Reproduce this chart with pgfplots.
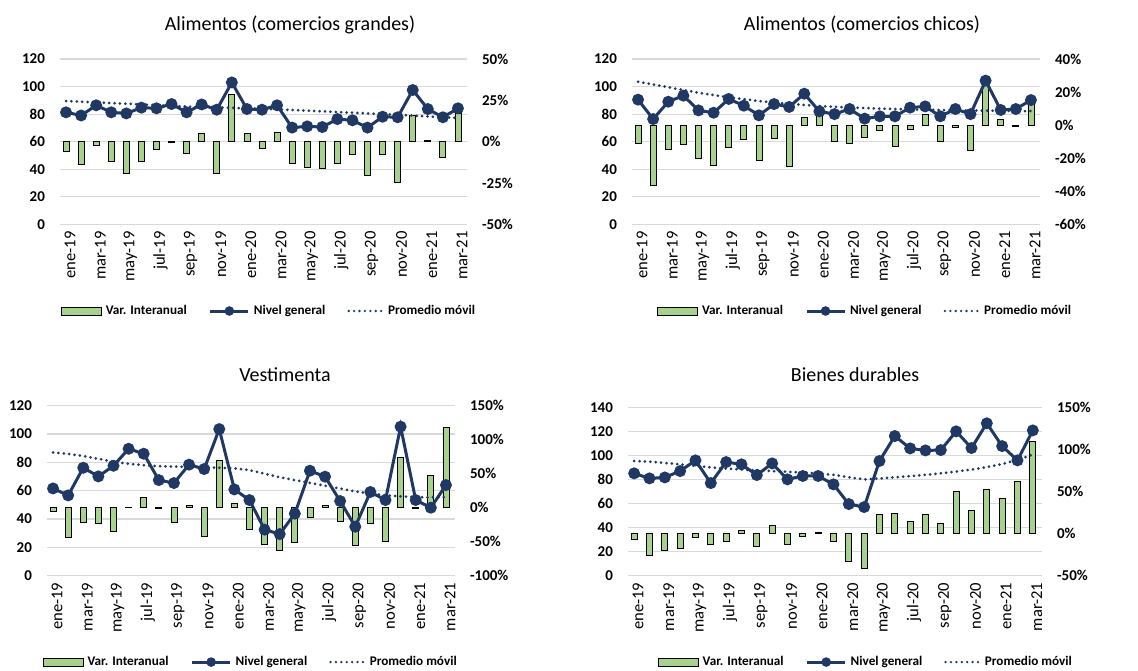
\documentclass[border=0pt]{standalone}
\usepackage{fontspec}
\setmainfont{Carlito}
\usepackage{pgfplots}
\usepackage{pgfplotstable}
\pgfplotsset{compat=1.18}

\definecolor{vgreen}{RGB}{169,209,142}
\definecolor{navy}{RGB}{31,56,100}
\definecolor{gridc}{RGB}{217,217,217}

% m = month index (1 = ene-19 ... 27 = mar-21)
\pgfplotstableread{
m niv var prom
1 81.3 -5.6 89.5
2 79.0 -13.5 89.0
3 86.4 -2.2 88.5
4 81.3 -12.1 88.0
5 80.5 -19.0 87.5
6 84.7 -12.1 87.0
7 84.2 -4.6 86.5
8 87.3 -0.6 86.0
9 81.3 -7.1 85.5
10 87.0 4.8 85.1
11 83.2 -19.0 84.8
12 103.0 28.4 84.5
13 83.7 4.8 84.2
14 83.2 -4.0 83.8
15 86.4 5.6 83.5
16 70.2 -13.3 83.0
17 71.1 -15.5 82.5
18 70.6 -16.1 82.0
19 76.4 -13.3 81.5
20 75.5 -7.7 81.0
21 70.2 -20.4 80.5
22 78.1 -7.7 80.0
23 77.7 -24.6 79.5
24 97.5 15.9 78.9
25 83.7 0.6 78.3
26 77.7 -9.7 77.8
27 84.2 17.1 77.2
}\grandes

\pgfplotstableread{
m niv var prom
1 90.5 -11.1 103.5
2 76.4 -36.3 101.5
3 89.0 -14.7 99.5
4 93.4 -11.9 97.5
5 82.7 -20.2 95.5
6 81.0 -24.6 93.8
7 91.0 -13.3 92.2
8 86.1 -8.9 90.8
9 79.1 -21.6 89.5
10 87.3 -8.3 88.4
11 85.2 -25.2 87.4
12 94.8 4.8 86.6
13 82.0 6.3 85.9
14 80.0 -9.7 85.3
15 83.7 -11.1 84.8
16 76.7 -7.5 84.4
17 78.4 -3.2 84.0
18 78.4 -13.1 83.7
19 84.7 -2.4 83.4
20 85.6 6.3 83.2
21 78.4 -9.7 83.0
22 83.7 -1.2 82.8
23 80.0 -15.5 82.6
24 104.3 24.4 82.5
25 83.0 3.6 82.4
26 83.7 -0.6 82.3
27 90.2 14.3 82.2
}\chicos

\pgfplotstableread{
m niv var prom
1 61.6 -4.9 87.0
2 56.7 -43.1 86.0
3 76.2 -21.6 84.5
4 70.1 -23.0 82.5
5 77.6 -34.8 80.5
6 89.6 1.0 79.0
7 86.1 15.7 78.0
8 67.5 -1.0 77.3
9 65.4 -21.6 77.0
10 78.4 3.4 76.8
11 75.3 -41.7 76.5
12 103.5 70.0 76.2
13 60.9 6.9 75.8
14 53.4 -31.9 74.5
15 32.5 -53.9 72.0
16 29.4 -62.7 69.5
17 43.8 -51.0 67.5
18 74.1 -13.7 65.5
19 69.9 3.4 63.5
20 52.7 -19.6 61.5
21 34.6 -55.4 59.5
22 59.1 -23.5 58.0
23 53.4 -49.0 56.8
24 105.2 73.5 56.0
25 53.4 -1.5 55.5
26 48.0 47.0 55.3
27 64.0 118.0 55.5
}\vestimenta

\pgfplotstableread{
m niv var prom
1 85.3 -7.1 95.6
2 81.1 -25.4 95.0
3 81.9 -19.8 94.0
4 87.2 -17.5 92.8
5 96.1 -4.4 91.5
6 77.2 -12.7 90.3
7 94.7 -8.7 89.3
8 92.8 4.4 88.5
9 83.9 -15.5 87.8
10 93.6 9.9 87.2
11 80.3 -12.7 86.6
12 83.1 -2.8 86.0
13 83.1 1.0 85.3
14 76.1 -8.7 84.0
15 59.7 -32.9 82.0
16 57.2 -41.3 80.3
17 95.6 22.6 81.0
18 116.4 23.8 82.0
19 106.1 14.3 83.0
20 104.4 22.6 84.0
21 104.7 12.7 85.3
22 120.3 50.8 86.8
23 106.4 28.2 88.5
24 127.0 52.4 90.5
25 108.0 42.1 93.0
26 96.1 62.3 96.5
27 121.1 110.0 101.0
}\durables

\pgfplotsset{
  base/.style={scale only axis, anchor=south west, xmin=0.6, xmax=27.6,
    /pgf/number format/assume math mode=true},
  gridax/.style={base, axis line style={draw=none}, major tick style={draw=none},
    ymajorgrids, grid style={gridc, line width=0.6pt},
    xtick={1,3,...,27},
    xticklabels={ene-19,mar-19,may-19,jul-19,sep-19,nov-19,ene-20,mar-20,may-20,jul-20,sep-20,nov-20,ene-21,mar-21},
    x tick label style={rotate=90, anchor=east, font=\fontsize{8.3}{9}\selectfont, yshift=-2pt},
    y tick label style={font=\bfseries\fontsize{7.5}{9}\selectfont, xshift=-4pt}},
  barax/.style={base, ybar, bar width=3pt, axis x line=none, axis y line*=right,
    axis line style={draw=none}, major tick style={draw=none},
    y tick label style={font=\bfseries\fontsize{7.5}{9}\selectfont, xshift=4pt}},
  linax/.style={base, hide axis,
    legend style={draw=none, fill=none, font=\bfseries\fontsize{6.6}{8}\selectfont,
      legend columns=3, anchor=center, /tikz/every even column/.style={column sep=9pt}},
    legend cell align=left},
  barst/.style={fill=vgreen, draw=black, line width=0.4pt},
  nivel/.style={navy, line width=1.5pt, mark=*, mark size=2.2pt,
    legend image code/.code={\draw[navy, line width=1.5pt] (0pt,0pt) -- (19pt,0pt);
      \fill[navy] (9.5pt,0pt) circle (1.6pt);}},
  prom/.style={navy, line width=1.5pt, dash pattern=on 0pt off 2.7pt, line cap=round,
    legend image code/.code={\draw[navy, line width=1.3pt, dash pattern=on 0pt off 2.7pt, line cap=round] (0pt,0pt) -- (17pt,0pt);}},
  varleg/.style={legend image code/.code={\draw[fill=vgreen, draw=black, line width=0.4pt] (0pt,-2pt) rectangle (20pt,2pt);}},
}

\begin{document}
\begin{tikzpicture}
\useasboundingbox (0,0) rectangle (569pt,-335pt);

% ---- Alimentos (comercios grandes)
\begin{axis}[gridax, at={(30pt,-112.15pt)}, width=203.5pt, height=82.65pt,
  ymin=0, ymax=120, ytick={0,20,...,120}]
\end{axis}
\begin{axis}[barax, at={(30pt,-112.15pt)}, width=203.5pt, height=82.65pt,
  ymin=-50, ymax=50, ytick={-50,-25,0,25,50}, yticklabels={-50\%,-25\%,0\%,25\%,50\%}]
\addplot[barst] table[x=m, y=var] {\grandes};
\end{axis}
\begin{axis}[linax, at={(30pt,-112.15pt)}, width=203.5pt, height=82.65pt,
  ymin=0, ymax=120, legend style={at={(0.516,-0.5245)}}]
\addlegendimage{varleg}
\addlegendentry{Var. Interanual}
\addplot[nivel] table[x=m, y=niv] {\grandes};
\addlegendentry{Nivel general}
\addplot[prom] table[x=m, y=prom] {\grandes};
\addlegendentry{Promedio móvil}
\end{axis}
\node[font=\fontsize{10}{12}\selectfont] at (145pt,-12.5pt) {Alimentos (comercios grandes)};

% ---- Alimentos (comercios chicos)
\begin{axis}[gridax, at={(316pt,-112.15pt)}, width=204pt, height=82.65pt,
  ymin=0, ymax=120, ytick={0,20,...,120}]
\end{axis}
\begin{axis}[barax, at={(316pt,-112.15pt)}, width=204pt, height=82.65pt,
  ymin=-60, ymax=40, ytick={-60,-40,...,40}, yticklabels={-60\%,-40\%,-20\%,0\%,20\%,40\%}]
\addplot[barst] table[x=m, y=var] {\chicos};
\end{axis}
\begin{axis}[linax, at={(316pt,-112.15pt)}, width=204pt, height=82.65pt,
  ymin=0, ymax=120, legend style={at={(0.574,-0.5245)}}]
\addlegendimage{varleg}
\addlegendentry{Var. Interanual}
\addplot[nivel] table[x=m, y=niv] {\chicos};
\addlegendentry{Nivel general}
\addplot[prom] table[x=m, y=prom] {\chicos};
\addlegendentry{Promedio móvil}
\end{axis}
\node[font=\fontsize{10}{12}\selectfont] at (431pt,-12.5pt) {Alimentos (comercios chicos)};

% ---- Vestimenta
\begin{axis}[gridax, at={(23.5pt,-287.85pt)}, width=204pt, height=85pt,
  ymin=0, ymax=120, ytick={0,20,...,120}]
\end{axis}
\begin{axis}[barax, at={(23.5pt,-287.85pt)}, width=204pt, height=85pt,
  ymin=-100, ymax=150, ytick={-100,-50,...,150}, yticklabels={-100\%,-50\%,0\%,50\%,100\%,150\%}]
\addplot[barst] table[x=m, y=var] {\vestimenta};
\end{axis}
\begin{axis}[linax, at={(23.5pt,-287.85pt)}, width=204pt, height=85pt,
  ymin=0, ymax=120, legend style={at={(0.502,-0.508)}}]
\addlegendimage{varleg}
\addlegendentry{Var. Interanual}
\addplot[nivel] table[x=m, y=niv] {\vestimenta};
\addlegendentry{Nivel general}
\addplot[prom] table[x=m, y=prom] {\vestimenta};
\addlegendentry{Promedio móvil}
\end{axis}
\node[font=\fontsize{10}{12}\selectfont] at (142.5pt,-187.5pt) {Vestimenta};

% ---- Bienes durables
\begin{axis}[gridax, at={(314pt,-287.85pt)}, width=207pt, height=84pt,
  ymin=0, ymax=140, ytick={0,20,...,140}]
\end{axis}
\begin{axis}[barax, at={(314pt,-287.85pt)}, width=207pt, height=84pt,
  ymin=-50, ymax=150, ytick={-50,0,...,150}, yticklabels={-50\%,0\%,50\%,100\%,150\%}]
\addplot[barst] table[x=m, y=var] {\durables};
\end{axis}
\begin{axis}[linax, at={(314pt,-287.85pt)}, width=207pt, height=84pt,
  ymin=0, ymax=140, legend style={at={(0.577,-0.514)}}]
\addlegendimage{varleg}
\addlegendentry{Var. Interanual}
\addplot[nivel] table[x=m, y=niv] {\durables};
\addlegendentry{Nivel general}
\addplot[prom] table[x=m, y=prom] {\durables};
\addlegendentry{Promedio móvil}
\end{axis}
\node[font=\fontsize{10}{12}\selectfont] at (427.5pt,-187.5pt) {Bienes durables};
\end{tikzpicture}
\end{document}
